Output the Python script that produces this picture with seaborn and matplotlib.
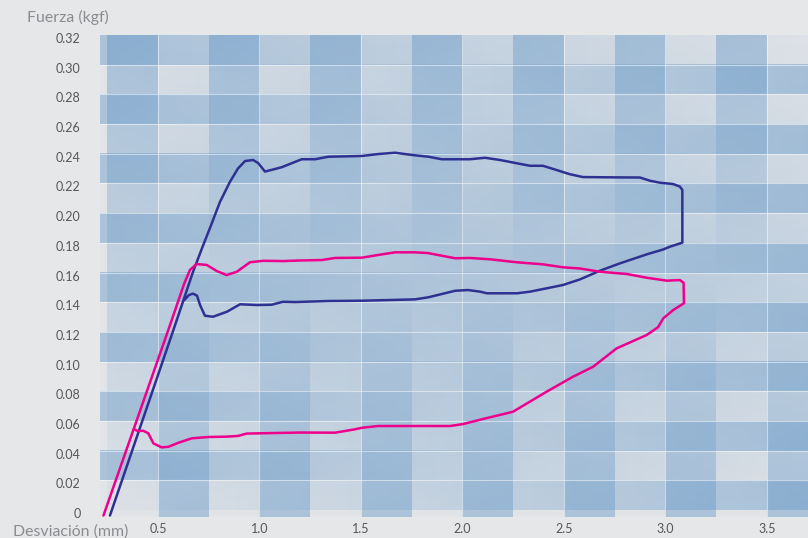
import numpy as np
import pandas as pd
import matplotlib
matplotlib.use("Agg")
import matplotlib.pyplot as plt
import matplotlib.transforms as mtransforms
import seaborn as sns

# Load/unload loops: deflection (mm) against force (kgf)
azul_desviacion = [0.263, 0.584, 0.672, 0.717, 0.756, 0.805, 0.854, 0.894, 0.929, 0.968,
                   0.993, 1.027, 1.109, 1.208, 1.274, 1.339, 1.504, 1.585, 1.668, 1.750,
                   1.832, 1.898, 2.037, 2.111, 2.185, 2.268, 2.333, 2.397, 2.465, 2.530,
                   2.594, 2.742, 2.875, 2.925, 2.974, 3.038, 3.072, 3.084, 3.084, 3.023,
                   2.989, 2.910, 2.860, 2.777, 2.678, 2.580, 2.496, 2.417, 2.333, 2.269,
                   2.121, 2.087, 2.028, 1.964, 1.832, 1.766, 1.504, 1.339, 1.175, 1.116,
                   1.060, 0.988, 0.904, 0.840, 0.771, 0.731, 0.707, 0.692, 0.672, 0.652,
                   0.630]
azul_fuerza = [-0.0037, 0.1246, 0.1603, 0.1765, 0.1900, 0.2075, 0.2210, 0.2301, 0.2351, 0.2358,
               0.2338, 0.2280, 0.2309, 0.2363, 0.2363, 0.2380, 0.2385, 0.2398, 0.2407, 0.2392,
               0.2380, 0.2363, 0.2363, 0.2373, 0.2358, 0.2336, 0.2319, 0.2319, 0.2290, 0.2262,
               0.2243, 0.2241, 0.2240, 0.2218, 0.2205, 0.2196, 0.2179, 0.2156, 0.1801, 0.1774,
               0.1755, 0.1723, 0.1700, 0.1662, 0.1612, 0.1554, 0.1516, 0.1494, 0.1471, 0.1460,
               0.1460, 0.1471, 0.1482, 0.1477, 0.1433, 0.1419, 0.1410, 0.1408, 0.1401, 0.1403,
               0.1383, 0.1381, 0.1386, 0.1336, 0.1302, 0.1309, 0.1381, 0.1444, 0.1458, 0.1448,
               0.1415]

rosa_desviacion = [0.231, 0.559, 0.628, 0.657, 0.690, 0.740, 0.789, 0.838, 0.888, 0.953,
                   1.019, 1.117, 1.200, 1.308, 1.372, 1.505, 1.584, 1.668, 1.766, 1.830,
                   1.899, 1.964, 2.037, 2.136, 2.268, 2.397, 2.496, 2.580, 2.678, 2.810,
                   2.908, 3.007, 3.072, 3.090, 3.092, 3.039, 2.990, 2.964, 2.908, 2.760,
                   2.644, 2.545, 2.415, 2.249, 2.101, 2.003, 1.939, 1.584, 1.505, 1.471,
                   1.372, 1.200, 0.937, 0.894, 0.830, 0.748, 0.666, 0.600, 0.551, 0.518,
                   0.477, 0.452, 0.427, 0.400, 0.381]
rosa_fuerza = [-0.0037, 0.1246, 0.1522, 0.1617, 0.1657, 0.1651, 0.1610, 0.1583, 0.1605, 0.1669,
               0.1679, 0.1677, 0.1681, 0.1684, 0.1698, 0.1700, 0.1718, 0.1736, 0.1736, 0.1731,
               0.1713, 0.1696, 0.1698, 0.1689, 0.1669, 0.1655, 0.1635, 0.1627, 0.1605, 0.1590,
               0.1565, 0.1545, 0.1549, 0.1531, 0.1393, 0.1347, 0.1291, 0.1231, 0.1179, 0.1089,
               0.0965, 0.0898, 0.0797, 0.0662, 0.0613, 0.0579, 0.0566, 0.0566, 0.0554, 0.0544,
               0.0521, 0.0522, 0.0515, 0.0499, 0.0494, 0.0492, 0.0483, 0.0453, 0.0426, 0.0422,
               0.0449, 0.0517, 0.0534, 0.0532, 0.0545]

y_ticks = [0, 0.02, 0.04, 0.06, 0.08, 0.10, 0.12, 0.14, 0.16, 0.18,
           0.20, 0.22, 0.24, 0.26, 0.28, 0.30, 0.32]
y_labels = ["0", "0.02", "0.04", "0.06", "0.08", "0.10", "0.12", "0.14", "0.16", "0.18",
            "0.20", "0.22", "0.24", "0.26", "0.28", "0.30", "0.32"]
x_ticks = [0.5, 1.0, 1.5, 2.0, 2.5, 3.0, 3.5]
x_labels = ["0.5", "1.0", "1.5", "2.0", "2.5", "3.0", "3.5"]

BG = "#e6e7e9"
BAND_RGB = (0.39, 0.59, 0.78)
A_MIN, A_MAX = 0.03, 0.45
AZUL = "#2e3192"
ROSA = "#ec008c"

sns.set_theme(style="white")
plt.rcParams["font.family"] = ["Lato", "DejaVu Sans"]

fig = plt.figure(figsize=(8.08, 5.38), dpi=100, facecolor=BG)
ax = fig.add_axes([100 / 808, 21 / 538, 708 / 808, 482 / 538])
ax.set_facecolor(BG)

x_lo, x_hi = 0.2139, 3.7033
y_lo, y_hi = -0.0047, 0.32


def band(alpha_start, alpha_end, horizontal):
    a = np.linspace(alpha_start, alpha_end, 256)
    if horizontal:
        arr = np.zeros((1, 256, 4))
        arr[0, :, :3] = BAND_RGB
        arr[0, :, 3] = a
    else:
        arr = np.zeros((256, 1, 4))
        arr[:, 0, :3] = BAND_RGB
        arr[:, 0, 3] = a
    return arr


# horizontal plaid stripes, shading swaps from left to right
for i in range(16):
    y0 = 0.02 * i
    a0, a1 = (A_MIN, A_MAX) if i % 2 == 0 else (A_MAX, A_MIN)
    ax.imshow(band(a0, a1, True), extent=[x_lo, x_hi, y0, y0 + 0.02],
              origin="lower", aspect="auto", interpolation="bilinear", zorder=0)

# vertical plaid stripes, shading swaps from bottom to top
for j in range(1, 15):
    x0 = 0.25 * j
    a0, a1 = (A_MIN, A_MAX) if j % 2 == 1 else (A_MAX, A_MIN)
    ax.imshow(band(a0, a1, False), extent=[x0, x0 + 0.25, y_lo, y_hi],
              origin="lower", aspect="auto", interpolation="bilinear", zorder=0)

for y in y_ticks[1:-1]:
    ax.axhline(y, color="white", lw=0.8, alpha=0.5, zorder=1)
for x in x_ticks:
    ax.axvline(x, color="white", lw=0.8, alpha=0.5, zorder=1)

df_azul = pd.DataFrame({"desviacion": azul_desviacion, "fuerza": azul_fuerza})
df_rosa = pd.DataFrame({"desviacion": rosa_desviacion, "fuerza": rosa_fuerza})
sns.lineplot(data=df_azul, x="desviacion", y="fuerza", sort=False, estimator=None,
             color=AZUL, lw=1.8, ax=ax, zorder=3)
sns.lineplot(data=df_rosa, x="desviacion", y="fuerza", sort=False, estimator=None,
             color=ROSA, lw=1.8, ax=ax, zorder=4)
for ln in ax.lines[-2:]:
    ln.set_solid_joinstyle("round")
    ln.set_solid_capstyle("round")

ax.set_xlim(x_lo, x_hi)
ax.set_ylim(y_lo, y_hi)
ax.set_xlabel("")
ax.set_ylabel("")
for s in ax.spines.values():
    s.set_visible(False)
ax.grid(False)

ax.set_yticks(y_ticks, y_labels)
ax.set_xticks(x_ticks, x_labels)
ax.tick_params(axis="both", length=0, labelsize=9, labelcolor="#555759")
ax.tick_params(axis="y", pad=14)
ax.tick_params(axis="x", pad=4)
shift = mtransforms.ScaledTranslation(0, -3 / 100, fig.dpi_scale_trans)
for lab in ax.get_yticklabels():
    lab.set_transform(lab.get_transform() + shift)

fig.text(27 / 808, 1 - 17 / 538, "Fuerza (kgf)", ha="left", va="center",
         color="#8a8c8f", fontsize=11.4)
fig.text(13 / 808, 2 / 538, "Desviación (mm)", ha="left", va="baseline",
         color="#8a8c8f", fontsize=11.4)

fig.savefig("out.png", dpi=100, facecolor=BG)
